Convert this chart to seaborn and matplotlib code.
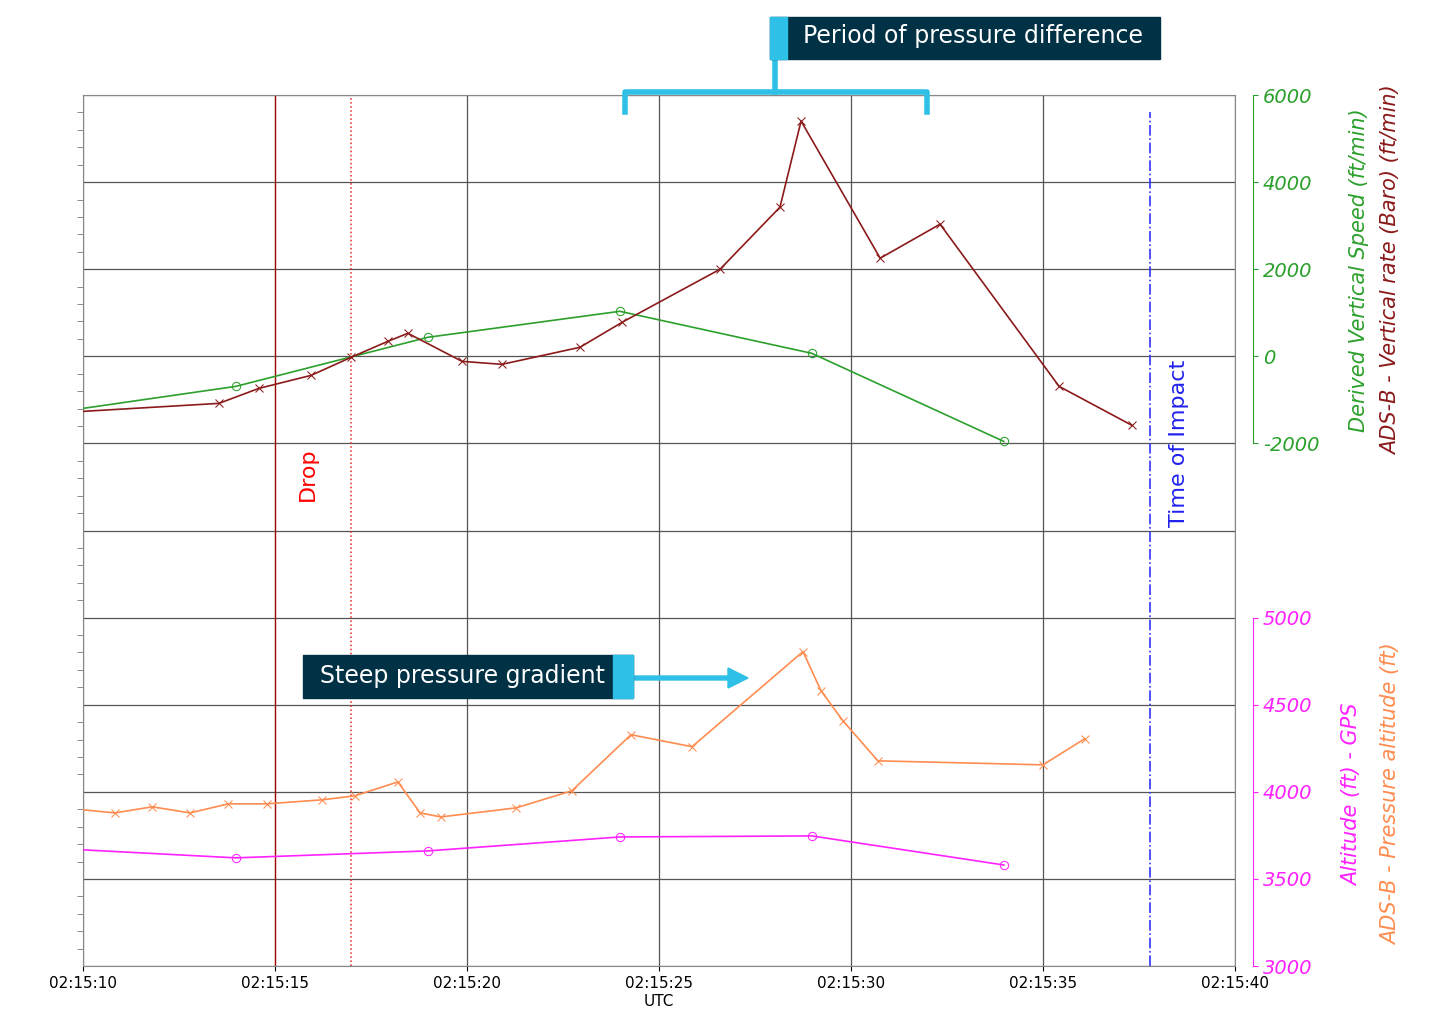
import numpy as np
import pandas as pd
import matplotlib
matplotlib.use("Agg")
import matplotlib.pyplot as plt
import seaborn as sns
from matplotlib.patches import Rectangle

# seconds after 02:15:10
tick_secs = [0, 5, 10, 15, 20, 25, 30]
tick_labels = ["02:15:10", "02:15:15", "02:15:20", "02:15:25", "02:15:30", "02:15:35", "02:15:40"]

gps_vs_t = [0.0, 3.98, 8.98, 13.98, 18.98, 23.98]
gps_vs = [-1195, -690, 437, 1034, 69, -1954]

baro_vs_t = [0.0, 3.54, 4.58, 5.94, 6.98, 7.94, 8.46, 9.87, 10.91, 12.94, 14.04,
             16.59, 18.15, 18.7, 20.76, 22.32, 25.42, 27.32]
baro_vs = [-1264, -1080, -736, -437, -23, 345, 529, -115, -184, 207, 782,
           2000, 3425, 5402, 2253, 3034, -690, -1586]

press_alt_t = [0.0, 0.83, 1.8, 2.79, 3.78, 4.79, 6.22, 7.08, 8.2, 8.78, 9.32,
               11.28, 12.73, 14.27, 15.86, 18.75, 19.22, 19.79, 20.7, 25.0, 26.09]
press_alt = [3897, 3879, 3914, 3879, 3931, 3931, 3954, 3977, 4057, 3879, 3856,
             3908, 4006, 4328, 4259, 4805, 4580, 4408, 4178, 4155, 4305]

gps_alt_t = [0.0, 3.98, 8.98, 13.98, 18.98, 23.98]
gps_alt = [3667, 3621, 3661, 3741, 3747, 3580]

drop_t, drop2_t, impact_t = 5.0, 6.98, 27.79

GREEN = "#2ca02c"
BROWN = "#8b1a1a"
ORANGE = "#ff8c50"
MAGENTA = "#ff22ff"
NAVY = "#003145"
CYAN = "#2ec0e6"

fig = plt.figure(figsize=(14.34, 10.24), dpi=100)
ax = fig.add_axes([0.0579, 0.0566, 0.8033, 0.8506])
ax.set_xlim(0, 30)
ax.set_ylim(0, 10)
ax.set_yticks(range(11))
ax.set_yticklabels([])
ax.set_yticks(np.arange(0, 10, 0.2), minor=True)
ax.set_xticks(tick_secs)
ax.set_xticklabels(tick_labels, fontsize=11)
ax.set_xlabel("UTC", fontsize=11, labelpad=2)
ax.grid(True, color="#555555", lw=0.9)
ax.tick_params(axis="y", length=0, which="major")
ax.tick_params(axis="y", which="minor", length=4, color="#777777")
for s in ax.spines.values():
    s.set_color("#888888")

# upper axis: vertical speeds
ax_v = ax.twinx()
ax_v.set_ylim(-14000, 6000)
ax_v.spines["right"].set_position(("outward", 13))
ax_v.spines["right"].set_bounds(-2000, 6000)
ax_v.spines["right"].set_color(GREEN)
ax_v.set_yticks([-2000, 0, 2000, 4000, 6000])
ax_v.set_yticklabels(["-2000", "0", "2000", "4000", "6000"], fontsize=14, color=GREEN, style="italic")
ax_v.tick_params(axis="y", colors=GREEN, labelcolor=GREEN)
for s in ["top", "left", "bottom"]:
    ax_v.spines[s].set_visible(False)

sns.lineplot(x=gps_vs_t, y=gps_vs, ax=ax_v, color=GREEN, lw=1.2, marker="o",
             markersize=6, markerfacecolor="none", markeredgecolor=GREEN,
             markevery=list(range(1, len(gps_vs))))
sns.lineplot(x=baro_vs_t, y=baro_vs, ax=ax_v, color=BROWN, lw=1.2, marker="x",
             markersize=6, markeredgecolor=BROWN, markevery=list(range(1, len(baro_vs))))

# lower axis: altitudes
ax_a = ax.twinx()
ax_a.set_ylim(3000, 8000)
ax_a.spines["right"].set_position(("outward", 13))
ax_a.spines["right"].set_bounds(3000, 5000)
ax_a.spines["right"].set_color(MAGENTA)
ax_a.set_yticks([3000, 3500, 4000, 4500, 5000])
ax_a.set_yticklabels(["3000", "3500", "4000", "4500", "5000"], fontsize=14, color=MAGENTA, style="italic")
ax_a.tick_params(axis="y", colors=MAGENTA, labelcolor=MAGENTA)
for s in ["top", "left", "bottom"]:
    ax_a.spines[s].set_visible(False)

sns.lineplot(x=press_alt_t, y=press_alt, ax=ax_a, color=ORANGE, lw=1.2, marker="x",
             markersize=6, markeredgecolor=ORANGE, markevery=list(range(1, len(press_alt))))
sns.lineplot(x=gps_alt_t, y=gps_alt, ax=ax_a, color=MAGENTA, lw=1.2, marker="o",
             markersize=6, markerfacecolor="none", markeredgecolor=MAGENTA,
             markevery=list(range(1, len(gps_alt))))
for a in (ax_v, ax_a):
    a.set_xlim(0, 30)
    a.set_ylabel("")

# event lines
ax.axvline(drop_t, color="#aa0000", lw=0.9)
ax.axvline(drop2_t, color="#ee2222", lw=1.1, ls=":")
ax.plot([impact_t, impact_t], [0, 9.8], color="#3333ff", lw=1.2, ls="-.")
ax.text(drop_t + 0.85, 5.65, "Drop", color="red", rotation=90, fontsize=16, ha="center", va="center")
ax.text(impact_t + 0.75, 6.0, "Time of Impact", color="#2222ee", rotation=90, fontsize=16,
        ha="center", va="center")

# axis titles on right
fig.text(0.948, 0.736, "Derived Vertical Speed (ft/min)", rotation=90, color=GREEN,
         fontsize=15, style="italic", ha="center", va="center")
fig.text(0.970, 0.736, "ADS-B - Vertical rate (Baro) (ft/min)", rotation=90, color=BROWN,
         fontsize=15, style="italic", ha="center", va="center")
fig.text(0.943, 0.224, "Altitude (ft) - GPS", rotation=90, color=MAGENTA,
         fontsize=15, style="italic", ha="center", va="center")
fig.text(0.970, 0.224, "ADS-B - Pressure altitude (ft)", rotation=90, color=ORANGE,
         fontsize=15, style="italic", ha="center", va="center")

# annotation boxes (figure pixel coords -> fractions)
W, H = 1434, 1024
def px(x, y):
    return x / W, 1 - y / H

def box(x0, y0, x1, y1, color):
    fig.patches.append(Rectangle(px(x0, y1), (x1 - x0) / W, (y1 - y0) / H,
                                 transform=fig.transFigure, color=color, zorder=5))

box(770, 17, 1160, 59, NAVY)
box(770, 17, 787, 59, CYAN)
fig.text(*px(973, 36), "Period of pressure difference", color="white", fontsize=17,
         ha="center", va="center", zorder=6)
bx = [625, 625, 927, 927]
by = [112, 92, 92, 112]
fig.lines.append(plt.Line2D([x / W for x in bx], [1 - y / H for y in by], transform=fig.transFigure,
                            color=CYAN, lw=4, solid_joinstyle="round"))
fig.lines.append(plt.Line2D([775 / W, 775 / W], [1 - 59 / H, 1 - 92 / H], transform=fig.transFigure,
                            color=CYAN, lw=4))

box(303, 655, 633, 698, NAVY)
box(613, 655, 633, 698, CYAN)
fig.text(*px(462, 676), "Steep pressure gradient", color="white", fontsize=17,
         ha="center", va="center", zorder=6)
fig.patches.append(matplotlib.patches.FancyArrow(633 / W, 1 - 678 / H, 95 / W, 0, width=4 / H,
                                                 head_width=20 / H, head_length=20 / W,
                                                 transform=fig.transFigure, color=CYAN,
                                                 length_includes_head=False))

fig.savefig("out.png", dpi=100)
